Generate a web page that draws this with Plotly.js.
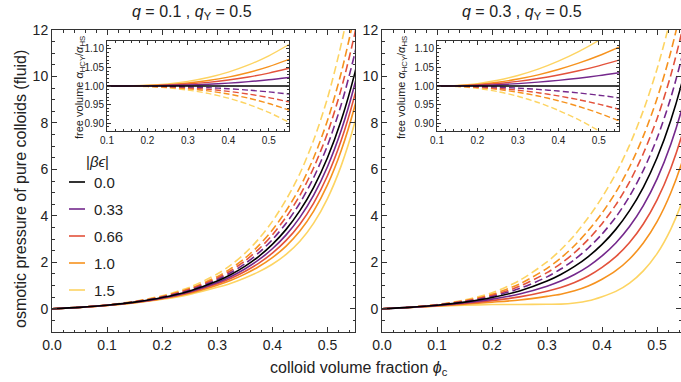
<!DOCTYPE html>
<html><head><meta charset="utf-8">
<script src="https://cdn.plot.ly/plotly-3.0.1.min.js"></script>
<style>html,body{margin:0;padding:0;background:#fff}#plot{width:681px;height:382px}</style>
</head><body><div id="plot"></div>
<script>
// ---------- data ----------
const phi = [0, 0.05, 0.1, 0.15, 0.2, 0.25, 0.3, 0.325, 0.35, 0.375, 0.4, 0.425, 0.45, 0.475, 0.5, 0.525, 0.55, 0.575, 0.6];
const betaEps = ['0.0', '0.33', '0.66', '1.0', '1.5'];
const panelTitles = ['<i>q</i> = 0.1 , <i>q</i><sub>Y</sub> = 0.5', '<i>q</i> = 0.3 , <i>q</i><sub>Y</sub> = 0.5'];

// left panel (q = 0.1): solid = attractive, dashed = repulsive
const L_black   = [0, .0614, .1521, .2856, .4813, .7685, 1.1921, 1.4755, 1.822, 2.247, 2.7704, 3.4178, 4.2233, 5.2307, 6.5, 8.1117, 10.178, 12.85, 16.35];
const L_att_033 = [0, .0607, .1495, .2783, .4648, .7355, 1.1327, 1.393, 1.7131, 2.1018, 2.5823, 3.1802, 3.9329, 4.8908, 6.1139, 7.6827, 9.7094, 12.3451, 15.8088];
const L_att_066 = [0, .0601, .1468, .2711, .4483, .7025, 1.0733, 1.3105, 1.6042, 1.9566, 2.3942, 2.9426, 3.6425, 4.5509, 5.7278, 7.2537, 9.2408, 11.8402, 15.2676];
const L_att_100 = [0, .0594, .1441, .2636, .4313, .6685, 1.0121, 1.2255, 1.492, 1.807, 2.2004, 2.6978, 3.3433, 4.2007, 5.33, 6.8117, 8.758, 11.32, 14.71];
const L_att_150 = [0, .0584, .1401, .2526, .4063, .6185, .9221, 1.1005, 1.327, 1.587, 1.9154, 2.3378, 2.9033, 3.6857, 4.745, 6.1617, 8.048, 10.555, 13.89];
const L_rep_033 = [0, .0621, .1547, .2929, .4978, .8015, 1.2548, 1.5613, 1.9375, 2.4021, 2.975, 3.6818, 4.5533, 5.6498, 7.028, 8.7882, 11.036, 13.939, 17.703];
const L_rep_066 = [0, .0627, .1574, .3001, .5143, .8345, 1.3175, 1.6471, 2.053, 2.5572, 3.1796, 3.9458, 4.8833, 6.0689, 7.556, 9.4647, 11.894, 15.028, 19.056];
const L_rep_100 = [0, .0634, .1601, .3076, .5313, .8685, 1.3821, 1.7355, 2.172, 2.717, 3.3904, 4.2178, 5.2233, 6.5007, 8.1, 10.1617, 12.778, 16.15, 20.45];
const L_rep_150 = [0, .0646, .1649, .3208, .5613, .9285, 1.4961, 1.8915, 2.382, 2.999, 3.7624, 4.6978, 5.8233, 7.2627, 9.06, 11.3917, 14.338, 18.13, 22.91];

// right panel (q = 0.3)
const R_black   = [0, .0614, .1521, .2856, .4813, .7685, 1.1921, 1.4755, 1.822, 2.247, 2.7704, 3.4178, 4.2233, 5.2307, 6.5, 8.1117, 10.178, 12.85, 16.35];
const R_att_033 = [0, .0598, .1422, .2559, .4153, .6398, .9743, 1.195, 1.4755, 1.8279, 2.2754, 2.8304, 3.5369, 4.4387, 5.5925, 7.0821, 9.0164, 11.5465, 14.898];
const R_att_066 = [0, .0581, .1323, .2262, .3493, .5111, .7565, .9145, 1.129, 1.4088, 1.7804, 2.243, 2.8505, 3.6467, 4.685, 6.0525, 7.8548, 10.243, 13.446];
const R_att_100 = [0, .0564, .1221, .1956, .2813, .3785, .5321, .6255, .772, .977, 1.2704, 1.6378, 2.1433, 2.8307, 3.75, 4.9917, 6.658, 8.9, 11.95];
const R_att_150 = [0, .0539, .1071, .1506, .1813, .1855, .1951, .2005, .247, .342, .5204, .7478, 1.1033, 1.6307, 2.375, 3.4317, 4.898, 6.925, 9.75];
const R_rep_033 = [0, .0627, .1587, .3054, .5275, .8675, 1.3736, 1.7098, 2.119, 2.6166, 3.2159, 3.9458, 4.8437, 5.9567, 7.3415, 9.0852, 11.3, 14.137, 17.802];
const R_rep_066 = [0, .064, .1653, .3252, .5737, .9665, 1.5551, 1.9441, 2.416, 2.9862, 3.6614, 4.4738, 5.4641, 6.6827, 8.183, 10.0587, 12.422, 15.424, 19.254];
const R_rep_100 = [0, .0654, .1721, .3456, .6213, 1.0685, 1.7421, 2.1855, 2.722, 3.367, 4.1204, 5.0178, 6.1033, 7.4307, 9.05, 11.0617, 13.578, 16.75, 20.75];
const R_rep_150 = [0, .0674, .1821, .3756, .6913, 1.2185, 2.0171, 2.5405, 3.172, 3.927, 4.7954, 5.8178, 7.0433, 8.5307, 10.325, 12.5367, 15.278, 18.7, 22.95];

// insets: free volume ratio alpha_HCY / alpha_HS
const insetPhi = [0.1, 0.15, 0.2, 0.25, 0.3, 0.35, 0.4, 0.45, 0.5, 0.55];
const LI_black   = [1, 1, 1, 1, 1, 1, 1, 1, 1, 1];
const LI_att_033 = [1, 1.0001, 1.0004, 1.0012, 1.0026, 1.0047, 1.0077, 1.0117, 1.0167, 1.023];
const LI_att_066 = [1, 1.0001, 1.0008, 1.0025, 1.0054, 1.0098, 1.0161, 1.0244, 1.0349, 1.048];
const LI_att_100 = [1, 1.0002, 1.0012, 1.0037, 1.0081, 1.0147, 1.0241, 1.0366, 1.0524, 1.072];
const LI_att_150 = [1, 1.0003, 1.0019, 1.0058, 1.0125, 1.0229, 1.0375, 1.0569, 1.0815, 1.112];
const LI_rep_033 = [1, .9999, .9996, .9989, .9975, .9955, .9926, .9888, .984, .978];
const LI_rep_066 = [1, .9999, .9993, .9978, .9952, .9912, .9856, .9782, .9687, .957];
const LI_rep_100 = [1, .9998, .9989, .9967, .9927, .9867, .9783, .967, .9527, .935];
const LI_rep_150 = [1, .9997, .9983, .995, .989, .98, .9672, .9502, .9287, .902];

const RI_black   = [1, 1, 1, 1, 1, 1, 1, 1, 1, 1];
const RI_att_033 = [1, 1.0003, 1.0015, 1.0035, 1.0065, 1.0104, 1.0153, 1.0211, 1.028, 1.036];
const RI_att_066 = [1, 1.0007, 1.0029, 1.0068, 1.0125, 1.0201, 1.0297, 1.0411, 1.0545, 1.07];
const RI_att_100 = [1, 1.001, 1.0043, 1.0102, 1.0188, 1.0302, 1.0445, 1.0616, 1.0818, 1.105];
const RI_att_150 = [1, 1.0015, 1.0065, 1.0154, 1.0283, 1.0454, 1.067, 1.0927, 1.1231, 1.158];
const RI_rep_033 = [1, .9997, .9987, .9969, .9943, .9908, .9864, .9812, .9751, .968];
const RI_rep_066 = [1, .9994, .9974, .9939, .9887, .9819, .9733, .963, .9509, .937];
const RI_rep_100 = [1, .9991, .9961, .9908, .9832, .973, .9602, .9448, .9268, .906];
const RI_rep_150 = [1, .9985, .9936, .9849, .9722, .9554, .9343, .909, .8793, .845];

// ---------- styles ----------
const colors = ['#000000', '#74288c', '#e3523b', '#f6921e', '#fdd462'];
const FONT = 'Liberation Sans, Arial, sans-serif';
const TXT = '#222';
const AX = '#333';

const traces = [];
function addSet(xs, solid, dashed, xa, ya, w, dash) {
  for (let i = 4; i >= 1; i--) {
    traces.push({x: xs, y: dashed[i - 1], xaxis: xa, yaxis: ya, mode: 'lines', showlegend: false,
      line: {color: colors[i], width: w, dash: dash, shape: 'spline', smoothing: 0.8}, hoverinfo: 'skip'});
  }
  for (let i = 4; i >= 0; i--) {
    traces.push({x: xs, y: solid[i], xaxis: xa, yaxis: ya, mode: 'lines', showlegend: false,
      line: {color: colors[i], width: w, shape: 'spline', smoothing: 0.8}, hoverinfo: 'skip'});
  }
}
addSet(phi, [L_black, L_att_033, L_att_066, L_att_100, L_att_150], [L_rep_033, L_rep_066, L_rep_100, L_rep_150], 'x', 'y', 1.6, '8px,4px');
addSet(phi, [R_black, R_att_033, R_att_066, R_att_100, R_att_150], [R_rep_033, R_rep_066, R_rep_100, R_rep_150], 'x2', 'y2', 1.6, '8px,4px');
addSet(insetPhi, [LI_black, LI_att_033, LI_att_066, LI_att_100, LI_att_150], [LI_rep_033, LI_rep_066, LI_rep_100, LI_rep_150], 'x3', 'y3', 1.4, '6px,3px');
addSet(insetPhi, [RI_black, RI_att_033, RI_att_066, RI_att_100, RI_att_150], [RI_rep_033, RI_rep_066, RI_rep_100, RI_rep_150], 'x4', 'y4', 1.4, '6px,3px');

const W = 681, H = 382;
const px = v => v / W, py = v => 1 - v / H;

function axisBase(extra) {
  return Object.assign({
    showline: true, linecolor: AX, linewidth: 1, mirror: 'allticks',
    ticks: 'inside', tickcolor: AX, tickwidth: 1,
    showgrid: false, zeroline: false, fixedrange: true,
  }, extra);
}
const mainTickFont = {family: FONT, size: 14, color: TXT};
const insetTickFont = {family: FONT, size: 10, color: TXT};

const mainX = (dom, rng) => axisBase({domain: dom, range: rng, tick0: 0, dtick: 0.1, tickformat: '.1f', ticklen: 5,
  tickfont: mainTickFont, minor: {ticks: 'inside', ticklen: 2.5, dtick: 0.02, tickcolor: AX, showgrid: false}});
const mainY = (anchor) => axisBase({domain: [py(332), py(30)], range: [-1, 12], tick0: 0, dtick: 2, ticklen: 5, anchor: anchor,
  tickfont: mainTickFont, minor: {ticks: 'inside', ticklen: 2.5, dtick: 0.5, tickcolor: AX, showgrid: false}});
const insX = (dom, anchor) => axisBase({domain: dom, range: [0.1, 0.55], tick0: 0.1, dtick: 0.1, tickformat: '.1f', ticklen: 3.5, anchor: anchor,
  tickfont: insetTickFont, minor: {ticks: 'inside', ticklen: 2, dtick: 0.02, tickcolor: AX, showgrid: false}});
const insY = (anchor) => axisBase({domain: [py(131), py(41)], range: [0.8784, 1.1216], tick0: 0.9, dtick: 0.05, tickformat: '.2f', ticklen: 3.5, anchor: anchor,
  tickfont: insetTickFont, minor: {ticks: 'inside', ticklen: 2, dtick: 0.01, tickcolor: AX, showgrid: false}});

const annotations = [];
const ann = (x, y, text, size, extra) => annotations.push(Object.assign({xref: 'paper', yref: 'paper', x: px(x), y: py(y), text: text,
  showarrow: false, xanchor: 'center', yanchor: 'middle', font: {family: FONT, size: size, color: TXT}}, extra || {}));

ann(192.5, 12, panelTitles[0], 16);
ann(522, 12, panelTitles[1], 16);
ann(359, 368, 'colloid volume fraction <i>ϕ</i><sub>c</sub>', 16);
ann(20, 189, 'osmotic pressure of pure colloids (fluid)', 16, {textangle: -90});
ann(80, 88, 'free volume <i>α</i><sub>HCY</sub>/<i>α</i><sub>HS</sub>', 11, {textangle: -90});
ann(402, 88, 'free volume <i>α</i><sub>HCY</sub>/<i>α</i><sub>HS</sub>', 11, {textangle: -90});

// legend
ann(97, 162, '|<i>βϵ</i>|', 15);
const shapes = [];
const legendY = [182, 209, 236, 263, 290];
betaEps.forEach((lab, i) => {
  shapes.push({type: 'line', xref: 'paper', yref: 'paper', x0: px(69), x1: px(85), y0: py(legendY[i]), y1: py(legendY[i]),
    line: {color: colors[i], width: 1.6}});
  ann(92, legendY[i], lab, 15, {xanchor: 'left'});
});

const layout = {
  width: W, height: H, margin: {l: 0, r: 0, t: 0, b: 0},
  paper_bgcolor: '#fff', plot_bgcolor: 'rgba(0,0,0,0)', showlegend: false,
  xaxis: Object.assign(mainX([px(52), px(355)], [0, 0.55]), {anchor: 'y'}),
  yaxis: mainY('x'),
  xaxis2: Object.assign(mainX([px(382), 1], [0, 0.5435]), {anchor: 'y2'}),
  yaxis2: mainY('x2'),
  xaxis3: insX([px(107), px(289)], 'y3'),
  yaxis3: insY('x3'),
  xaxis4: insX([px(437), px(619)], 'y4'),
  yaxis4: insY('x4'),
  annotations: annotations,
  shapes: shapes,
};

Plotly.newPlot('plot', traces, layout, {staticPlot: true, displayModeBar: false});
</script></body></html>
